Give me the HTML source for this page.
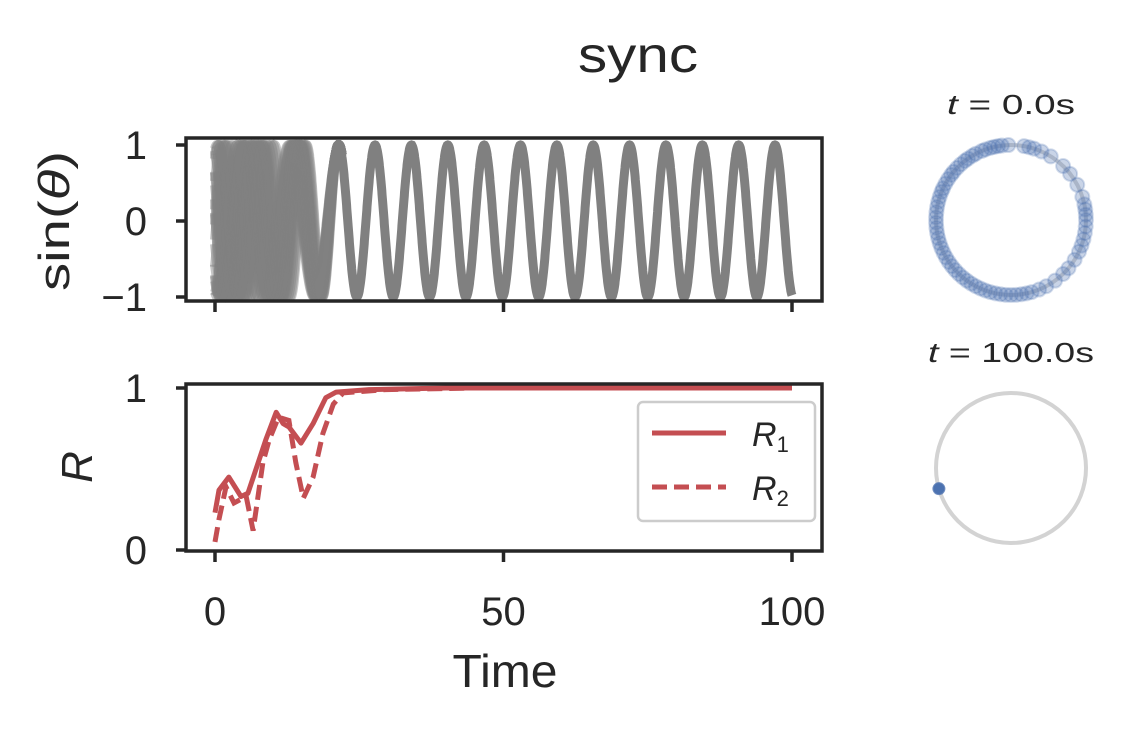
<!DOCTYPE html>
<html><head><meta charset="utf-8"><style>
html,body{margin:0;padding:0;background:#fff;}
svg text{font-family:"Liberation Sans","DejaVu Sans",sans-serif;fill:#262626;}
</style></head><body>
<svg id="fig" width="1127" height="727" viewBox="0 0 1127 727" xmlns="http://www.w3.org/2000/svg">
<text x="638" y="72" font-size="50" text-anchor="middle" textLength="120" lengthAdjust="spacingAndGlyphs">sync</text>
<g id="topPanel"></g>
<g id="botPanel"></g>
<g id="circPanel"></g>
</svg>
<script>
// ---- data ----
const rTimes1 = [0,0.7,2.4,4.5,5.7,8.8,10.6,11.8,12.8,14.9,17,19.2,21,26.7,40,100];
const rValues1 = [0.23,0.37,0.45,0.33,0.35,0.68,0.85,0.78,0.76,0.66,0.78,0.94,0.975,0.99,1,1];
const rTimes2 = [0,0.7,1.9,3.3,5.4,6.6,8.3,9.4,11,12.8,14,15.3,17,18.7,20.5,22.2,29.6,45,100];
const rValues2 = [0.05,0.19,0.39,0.29,0.33,0.12,0.54,0.68,0.82,0.8,0.54,0.32,0.45,0.72,0.9,0.97,0.99,1,1];
const initPhases = [0.3,1.1,1.9,2.6,3.4,4.0,4.7,5.3,6.0,0.7,1.5,2.2,3.0,3.8,4.4,5.0,5.7,2.9,-0.5,-1.4,-2.3,-2.9,0.9,2.0,3.6,4.9];
const syncTime = 21;
const omega = 0.997;
const syncPhase = -19.8;
const circleAngles0 = [92,97,100,103,106,110,113,118,121,125,128,132,136,140,143,147,151,155,158,162,166,170,174,178,182,186,190,194,198,202,206,210,214,218,222,226,230,234,238,242,246,250,254,258,262,266,270,274,278,282,286,292,298,306,314,320,328,335,340,345,350,355,0,4,8,12,18,28,38,46,58,66,72,76,80];
const circleAnglesEnd = [196];
const xTicks = [0,50,100];
const topYTicks = [1,0,-1];
const topYLabels = ["1","0","\u22121"];
const botYTicks = [1,0];

const NS="http://www.w3.org/2000/svg";
function el(tag,attrs,parent){const e=document.createElementNS(NS,tag);for(const k in attrs)e.setAttribute(k,attrs[k]);parent.appendChild(e);return e;}
const X = t => 215 + (t/100)*(792-215);
const Yt = v => 221 - v*76;
const Yb = v => 550 - v*162;

// ---- top panel ----
const topG=document.getElementById('topPanel');
initPhases.forEach((p,i)=>{
  let d="";
  for(let t=0;t<=syncTime+1;t+=0.05){
    const w = Math.min(t/syncTime,1);
    const ph = omega*t + syncPhase + p*(1-w);
    d += (d?"L":"M")+X(t).toFixed(1)+","+Yt(Math.sin(ph)).toFixed(1);
  }
  const pa=el('path',{d:d,fill:'none',stroke:'#808080','stroke-width':10,'stroke-opacity':0.45},topG);
  
  
});
{
  let d="";
  for(let t=syncTime-1;t<=100;t+=0.05){d+=(d?"L":"M")+X(t).toFixed(1)+","+Yt(Math.sin(omega*t+syncPhase)).toFixed(1);}
  const pa=el('path',{d:d,fill:'none',stroke:'#808080','stroke-width':9},topG);
  
  
}
{
  const r=el('rect',{x:186,y:138,width:636,height:163,fill:'none',stroke:'#262626','stroke-width':3.5},topG);
  
  
  topYTicks.forEach((v,i)=>{
    el('line',{x1:176,x2:186,y1:Yt(v),y2:Yt(v),stroke:'#262626','stroke-width':3.5},topG);
    const t=el('text',{x:147,y:Yt(v)+14,'font-size':40,'text-anchor':'end'},topG);t.textContent=topYLabels[i];
    
    
  });
  xTicks.forEach(v=>{el('line',{x1:X(v),x2:X(v),y1:301,y2:312,stroke:'#262626','stroke-width':3.5},topG);});
  const yl=el('text',{x:0,y:0,'font-size':44,'text-anchor':'middle',textLength:140,lengthAdjust:'spacingAndGlyphs',transform:'translate(69,221) rotate(-90)'},topG);
  yl.textContent='sin(';
  const th=el('tspan',{'font-style':'italic'},yl);th.textContent='\u03B8';
  const cl=el('tspan',{},yl);cl.textContent=')';
  
  
}

// ---- bottom panel ----
const botG=document.getElementById('botPanel');
function line(ts,vs){return ts.map((t,i)=>(i?"L":"M")+X(t).toFixed(1)+","+Yb(vs[i]).toFixed(1)).join("");}
{
  const p1=el('path',{d:line(rTimes1,rValues1),fill:'none',stroke:'#c44e52','stroke-width':5,'stroke-linejoin':'round'},botG);
  
  
  const p2=el('path',{d:line(rTimes2,rValues2),fill:'none',stroke:'#c44e52','stroke-width':5,'stroke-dasharray':'15 7'},botG);
  
  
  const r=el('rect',{x:186,y:384,width:636,height:167,fill:'none',stroke:'#262626','stroke-width':3.5},botG);
  
  
  botYTicks.forEach(v=>{
    el('line',{x1:176,x2:186,y1:Yb(v),y2:Yb(v),stroke:'#262626','stroke-width':3.5},botG);
    const t=el('text',{x:147,y:Yb(v)+14,'font-size':40,'text-anchor':'end'},botG);t.textContent=String(v);
    
    
  });
  xTicks.forEach(v=>{
    el('line',{x1:X(v),x2:X(v),y1:551,y2:562,stroke:'#262626','stroke-width':3.5},botG);
    const t=el('text',{x:X(v),y:625,'font-size':40,'text-anchor':'middle'},botG);t.textContent=String(v);
    
    
  });
  const xl=el('text',{x:505,y:687,'font-size':46,'text-anchor':'middle',textLength:105,lengthAdjust:'spacingAndGlyphs'},botG);xl.textContent='Time';
  
  
  const yl=el('text',{x:0,y:0,'font-size':44,'font-style':'italic','text-anchor':'middle',transform:'translate(92,467) rotate(-90)'},botG);yl.textContent='R';
  
  
  const lg=el('g',{},botG);
  
  
  el('rect',{x:638,y:402,width:177,height:119,rx:5,fill:'#fff',stroke:'#cccccc','stroke-width':2.5},lg);
  el('line',{x1:652,x2:726,y1:433,y2:433,stroke:'#c44e52','stroke-width':5},lg);
  el('line',{x1:652,x2:726,y1:487,y2:487,stroke:'#c44e52','stroke-width':5,'stroke-dasharray':'15 7'},lg);
  const a=el('text',{x:752,y:446,'font-size':34,'font-style':'italic'},lg);a.textContent='R';
  const as=el('tspan',{'font-size':22,'font-style':'normal',dy:6},a);as.textContent='1';
  
  
  const b=el('text',{x:752,y:500,'font-size':34,'font-style':'italic'},lg);b.textContent='R';
  const bs=el('tspan',{'font-size':22,'font-style':'normal',dy:6},b);bs.textContent='2';
  
  
}

// ---- circles ----
const circG=document.getElementById('circPanel');
function drawCircle(cy,angles,title,alpha,rad,tlen,name){
  const g=el('g',{},circG);
  
  
  el('circle',{cx:1011,cy:cy,r:75,fill:'none',stroke:'#d3d3d3','stroke-width':4},g);
  angles.forEach(a=>{
    const r=a*Math.PI/180;
    const d=el('circle',{cx:1011+75*Math.cos(r),cy:cy-75*Math.sin(r),r:rad,fill:'#4c72b0','fill-opacity':alpha,stroke:'#4c72b0','stroke-opacity':alpha*0.8,'stroke-width':2},g);
    
    
  });
  const t=el('text',{x:1011,y:cy-106,'font-size':28,'text-anchor':'middle',textLength:tlen,lengthAdjust:'spacingAndGlyphs'},g);
  const ti=el('tspan',{'font-style':'italic'},t);ti.textContent='t';
  const tr=el('tspan',{},t);tr.textContent=' = '+title;
  
  
}
drawCircle(220,circleAngles0,'0.0s',0.3,7,128,'circle-t0');
drawCircle(468,circleAnglesEnd,'100.0s',1,5.5,166,'circle-t100');
</script>
</body></html>
